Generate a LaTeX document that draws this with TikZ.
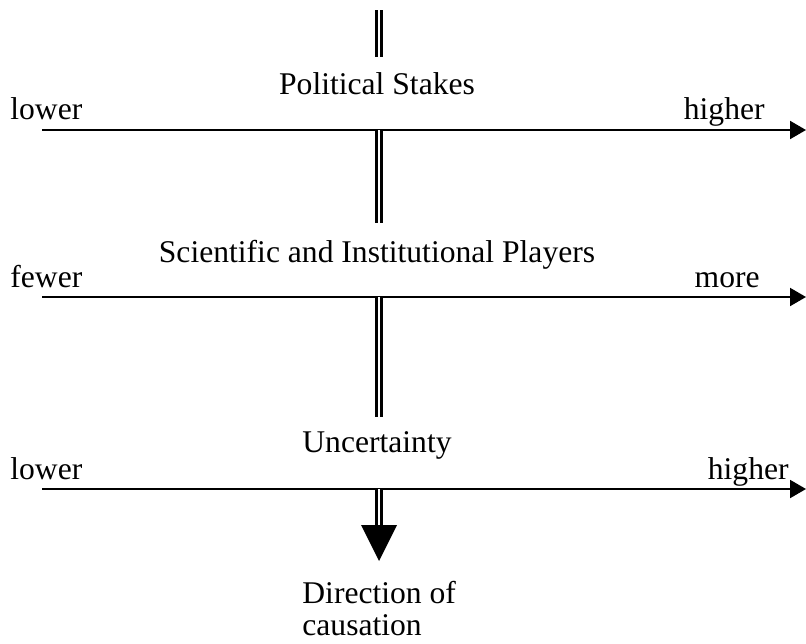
\documentclass[tikz,border=0pt]{standalone}
\usepackage{fontspec}
\setmainfont{Liberation Serif}
\usetikzlibrary{arrows.meta}
\usetikzlibrary{positioning}
\tikzstyle{axis} = [line width=1pt, -{Triangle[length=8pt,width=9pt]}]
\tikzstyle{cause} = [double, line width=1.3pt, double distance=1.2pt]
\tikzstyle{title} = [anchor=base]
\tikzstyle{lowend} = [anchor=base west]
\tikzstyle{highend} = [anchor=base east]

\begin{document}
\begin{tikzpicture}[
  x=0.5pt, y=-0.5pt,
  every node/.style={inner sep=0pt, font=\fontsize{15.8}{16}\selectfont},
]
\useasboundingbox (0,0) rectangle (806,643);

% axes
\coordinate (a1) at (42,130);
\coordinate (b1) at (806,130);
\coordinate (a2) at (42,297);
\coordinate (b2) at (806,297);
\coordinate (a3) at (42,489);
\coordinate (b3) at (806,489);
\draw[axis] (a1) -- (b1);
\draw[axis] (a2) -- (b2);
\draw[axis] (a3) -- (b3);

\node[title] (stakes) at (377,94) {Political Stakes};
\node[lowend] (low1) at (10,119) {lower};
\node[highend] (high1) at (765,119) {higher};

\node[title] (players) at (377,262) {Scientific and Institutional Players};
\node[lowend] (low2) at (10,287) {fewer};
\node[highend] (high2) at (760,287) {more};

\node[title] (uncert) at (377,452) {Uncertainty};
\node[lowend] (low3) at (10,479) {lower};
\node[highend] (high3) at (789,479) {higher};

% causation
\coordinate (s0) at (379,10);
\coordinate (e0) at (379,57);
\coordinate (s1) at (379,130);
\coordinate (e1) at (379,223);
\coordinate (s2) at (379,297);
\coordinate (e2) at (379,417);
\coordinate (s3) at (379,489);
\coordinate (e3) at (379,525);
\coordinate (tip) at (379,561);
\draw[cause] (s0) -- (e0);
\draw[cause] (s1) -- (e1);
\draw[cause] (s2) -- (e2);
\draw[cause] (s3) -- (e3);
\fill ([xshift=-9pt]e3) -- ([xshift=9pt]e3) -- (tip) -- cycle;

\node[align=left, anchor=north west] (dir) at (302,581) {Direction of\\causation};
\end{tikzpicture}
\end{document}
